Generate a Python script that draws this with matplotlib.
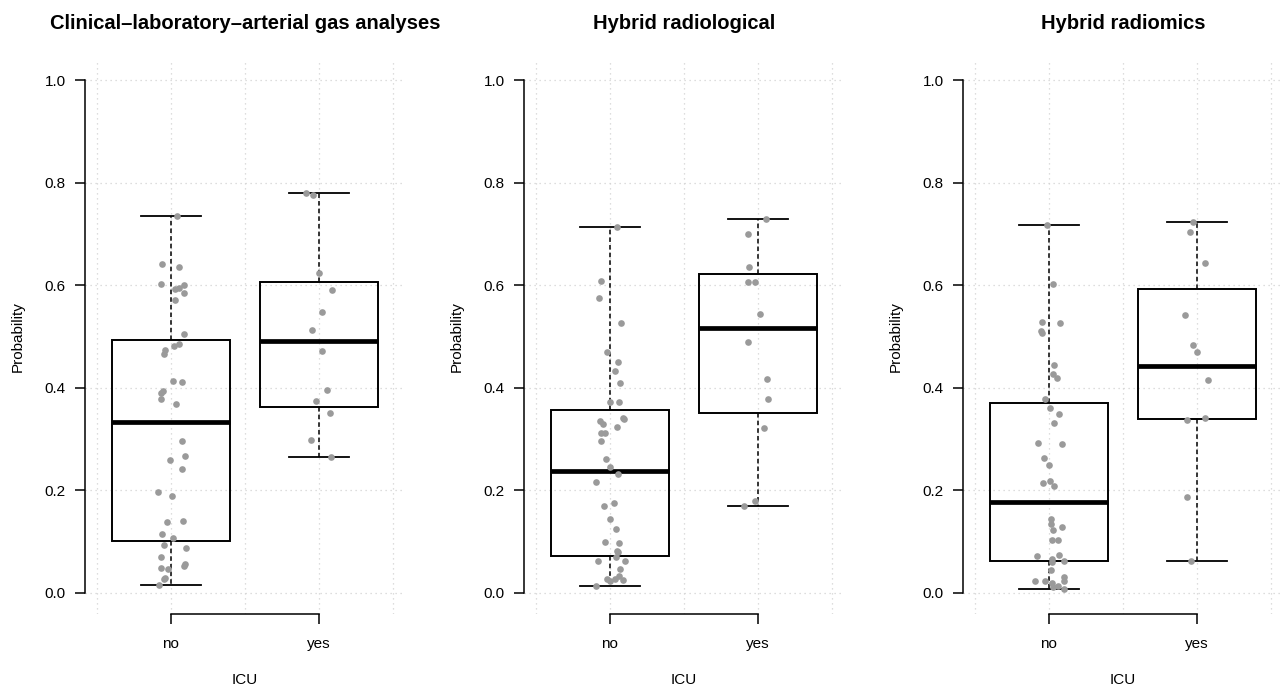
import matplotlib
matplotlib.use("Agg")
import matplotlib.pyplot as plt
import numpy as np

plt.rcParams['font.family'] = ['Liberation Sans', 'DejaVu Sans']

titles = ["Clinical\u2013laboratory\u2013arterial gas analyses", "Hybrid radiological", "Hybrid radiomics"]
groups = ["no", "yes"]

p1_no = [0.735, 0.642, 0.635, 0.602, 0.600, 0.595, 0.592, 0.584, 0.571, 0.504, 0.485, 0.482, 0.473, 0.465,
         0.413, 0.412, 0.394, 0.389, 0.378, 0.369, 0.296, 0.268, 0.260, 0.241, 0.196, 0.189, 0.141, 0.138,
         0.115, 0.107, 0.094, 0.088, 0.070, 0.056, 0.053, 0.049, 0.046, 0.029, 0.027, 0.015]
p1_no_jit = [0.043, -0.061, 0.054, -0.065, 0.086, 0.056, 0.029, 0.088, 0.025, 0.086, 0.052, 0.018, -0.038, -0.050,
             0.016, 0.074, -0.052, -0.065, -0.068, 0.034, 0.074, 0.095, -0.007, 0.074, -0.090, 0.007, 0.079, -0.025,
             -0.059, 0.014, -0.047, 0.099, -0.065, 0.097, 0.086, -0.068, -0.023, -0.038, -0.050, -0.081]
p1_yes = [0.780, 0.776, 0.624, 0.591, 0.547, 0.513, 0.471, 0.396, 0.374, 0.351, 0.299, 0.266]
p1_yes_jit = [-0.088, -0.043, 0.0, 0.086, 0.018, -0.045, 0.020, 0.052, -0.018, 0.074, -0.052, 0.079]

p2_no = [0.714, 0.608, 0.576, 0.527, 0.470, 0.450, 0.433, 0.409, 0.372, 0.373, 0.342, 0.340, 0.335, 0.329,
         0.324, 0.312, 0.312, 0.297, 0.261, 0.245, 0.231, 0.216, 0.169, 0.175, 0.144, 0.125, 0.099, 0.097,
         0.082, 0.079, 0.070, 0.062, 0.062, 0.046, 0.034, 0.027, 0.024, 0.028, 0.026, 0.014]
p2_no_jit = [0.045, -0.061, -0.077, 0.074, -0.020, 0.054, 0.036, 0.065, 0.000, 0.059, 0.088, 0.092, -0.068, -0.050,
             0.050, -0.063, -0.036, -0.061, -0.027, 0.000, 0.054, -0.095, -0.041, 0.027, 0.002, 0.043, -0.032, 0.061,
             0.045, 0.056, 0.038, -0.081, 0.099, 0.068, 0.059, -0.020, 0.000, 0.034, 0.090, -0.095]
p2_yes = [0.730, 0.699, 0.635, 0.606, 0.606, 0.544, 0.489, 0.418, 0.378, 0.321, 0.179, 0.170]
p2_yes_jit = [0.056, -0.070, -0.059, -0.070, -0.020, 0.014, -0.068, 0.059, 0.065, 0.041, -0.020, -0.097]

p3_no = [0.718, 0.603, 0.528, 0.526, 0.511, 0.506, 0.444, 0.426, 0.420, 0.379, 0.361, 0.348, 0.332, 0.293,
         0.290, 0.263, 0.250, 0.214, 0.218, 0.209, 0.145, 0.134, 0.128, 0.122, 0.104, 0.104, 0.072, 0.075,
         0.066, 0.061, 0.062, 0.045, 0.024, 0.024, 0.031, 0.023, 0.019, 0.014, 0.011, 0.008]
p3_no_jit = [-0.016, 0.029, -0.047, 0.074, -0.054, -0.047, 0.034, 0.027, 0.056, -0.029, 0.005, 0.068, 0.032, -0.072,
             0.088, -0.032, 0.002, -0.043, 0.005, 0.034, 0.016, 0.016, 0.090, 0.027, 0.020, 0.059, -0.079, 0.068,
             0.020, 0.020, 0.099, 0.016, -0.092, -0.025, 0.101, 0.101, 0.020, 0.063, 0.027, 0.101]
p3_yes = [0.723, 0.703, 0.644, 0.541, 0.483, 0.470, 0.415, 0.337, 0.342, 0.187, 0.063]
p3_yes_jit = [-0.025, -0.050, 0.054, -0.083, -0.027, 0.000, 0.077, -0.070, 0.054, -0.070, -0.038]

# box statistics (whisker low, q1, median, q3, whisker high)
box_p1 = [[0.015, 0.101, 0.333, 0.494, 0.735], [0.266, 0.363, 0.492, 0.607, 0.779]]
box_p2 = [[0.014, 0.073, 0.238, 0.357, 0.714], [0.170, 0.350, 0.517, 0.621, 0.730]]
box_p3 = [[0.008, 0.062, 0.177, 0.371, 0.718], [0.063, 0.340, 0.443, 0.592, 0.723]]

yticks = [0.0, 0.2, 0.4, 0.6, 0.8, 1.0]

panels = [
    (box_p1, [(p1_no, p1_no_jit), (p1_yes, p1_yes_jit)]),
    (box_p2, [(p2_no, p2_no_jit), (p2_yes, p2_yes_jit)]),
    (box_p3, [(p3_no, p3_no_jit), (p3_yes, p3_yes_jit)]),
]

W, H = 1282, 693
fig = plt.figure(figsize=(W / 100, H / 100), dpi=100)

ax_lefts = [85, 524, 963]
ax_w = 320
ax_top = 59.5
ax_bot = 613.5

grid_kw = dict(color='#d3d3d3', linestyle=(0, (1, 3)), linewidth=0.9, zorder=0)

for i, (boxes, pts) in enumerate(panels):
    ax = fig.add_axes([ax_lefts[i] / W, (H - ax_bot) / H, ax_w / W, (ax_bot - ax_top) / H])
    ax.set_xlim(0.42, 2.58)
    ax.set_ylim(-0.04, 1.04)

    for gx in [0.5, 1.0, 1.5, 2.0, 2.5]:
        ax.axvline(gx, **grid_kw)
    for gy in yticks:
        ax.axhline(gy, **grid_kw)

    stats = []
    for g, b in zip(groups, boxes):
        stats.append(dict(label=g, whislo=b[0], q1=b[1], med=b[2], q3=b[3], whishi=b[4], fliers=[]))
    ax.bxp(stats, positions=[1, 2], widths=0.8, capwidths=0.4, showfliers=False, patch_artist=True,
           boxprops=dict(facecolor='none', edgecolor='black', linewidth=1.4),
           medianprops=dict(color='black', linewidth=3.4, solid_capstyle='butt'),
           whiskerprops=dict(color='black', linewidth=1.1, linestyle=(0, (3, 2))),
           capprops=dict(color='black', linewidth=1.3),
           zorder=2)

    for k, (vals, jit) in enumerate(pts):
        xs = np.array(jit) + (k + 1)
        ax.plot(xs, vals, 'o', color='#9a9a9a', markersize=4.8, markeredgewidth=0, zorder=3)

    for s in ['top', 'right']:
        ax.spines[s].set_visible(False)
    ax.spines['left'].set_bounds(0, 1)
    ax.spines['bottom'].set_bounds(1, 2)
    ax.spines['left'].set_linewidth(1.1)
    ax.spines['bottom'].set_linewidth(1.1)

    ax.set_yticks(yticks)
    ax.set_yticklabels([f"{t:.1f}" for t in yticks])
    ax.set_xticks([1, 2])
    ax.set_xticklabels(groups)
    ax.tick_params(axis='both', length=7, width=1.1, labelsize=11, color='black')
    ax.tick_params(axis='y', pad=7)
    ax.tick_params(axis='x', pad=10)

    ax.set_xlabel("ICU", fontsize=11)
    ax.xaxis.set_label_coords(0.5, -0.108)
    ax.set_ylabel("Probability", fontsize=11)
    ax.yaxis.set_label_coords(-0.187, 0.5)

    ax.set_title(titles[i], fontsize=14.5, fontweight='bold', pad=22)

fig.savefig("out.png", dpi=100)
